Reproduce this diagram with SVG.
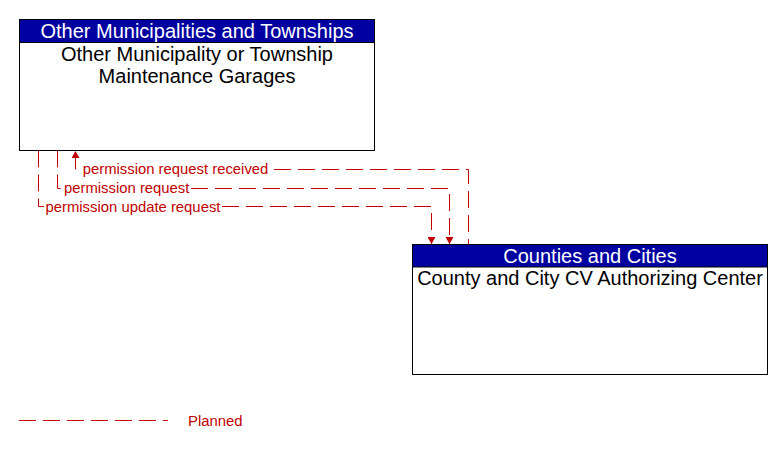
<svg xmlns="http://www.w3.org/2000/svg" width="783" height="449" viewBox="0 0 783 449">
<style>
.box{fill:#ffffff;stroke:#000000;stroke-width:1}
.hdr{fill:#0000a0;stroke:#000000;stroke-width:1}
.ht{font-family:"Liberation Sans",Arial,sans-serif;font-size:20px;fill:#ffffff;text-anchor:middle}
.bt{font-family:"Liberation Sans",Arial,sans-serif;font-size:20px;fill:#000000;text-anchor:middle}
.fl{fill:none;stroke:#c00000;stroke-width:1;stroke-dasharray:17 7}
.lt{font-family:"Liberation Sans",Arial,sans-serif;font-size:14.85px;fill:#c00000}
</style>
<defs>
<marker id="arr" viewBox="0 0 7 8" refX="7" refY="4" markerWidth="7" markerHeight="8" orient="auto" markerUnits="userSpaceOnUse">
<path d="M0,0 L7,4 L0,8 z" fill="#c00000"/>
</marker>
</defs>
<rect width="783" height="449" fill="#ffffff"/>
<g id="node-other-municipality">
<rect class="box" x="19.5" y="19.5" width="355" height="131"/>
<rect class="hdr" x="19.5" y="19.5" width="355" height="23"/>
<text class="ht" x="197" y="38">Other Municipalities and Townships</text>
<text class="bt" x="197" y="61">Other Municipality or Township</text>
<text class="bt" x="197" y="83">Maintenance Garages</text>
</g>
<g id="node-county-city">
<rect class="box" x="412.5" y="244.5" width="355" height="130"/>
<rect class="hdr" x="412.5" y="244.5" width="355" height="22.5"/>
<text class="ht" x="590" y="262.5">Counties and Cities</text>
<text class="bt" x="590" y="285">County and City CV Authorizing Center</text>
</g>
<g id="connectors">
<path class="fl" d="M38.5,150.5 V206.5 H44"/>
<path class="fl" d="M222,206.5 H431.5 V244" marker-end="url(#arr)"/>
<text class="lt" x="45.5" y="211.5">permission update request</text>
<path class="fl" d="M57.5,150.5 V188.5 H63"/>
<path class="fl" d="M191,188.5 H449.5 V244" marker-end="url(#arr)"/>
<text class="lt" x="64" y="193.3">permission request</text>
<path class="fl" d="M75.5,169.5 V151" marker-end="url(#arr)"/>
<path class="fl" d="M274,169.5 H468.5 V244"/>
<text class="lt" x="82.7" y="174.3">permission request received</text>
</g>
<g id="legend">
<line class="fl" x1="19" y1="420.5" x2="168" y2="420.5"/>
<text class="lt" x="188" y="426">Planned</text>
</g>
</svg>
